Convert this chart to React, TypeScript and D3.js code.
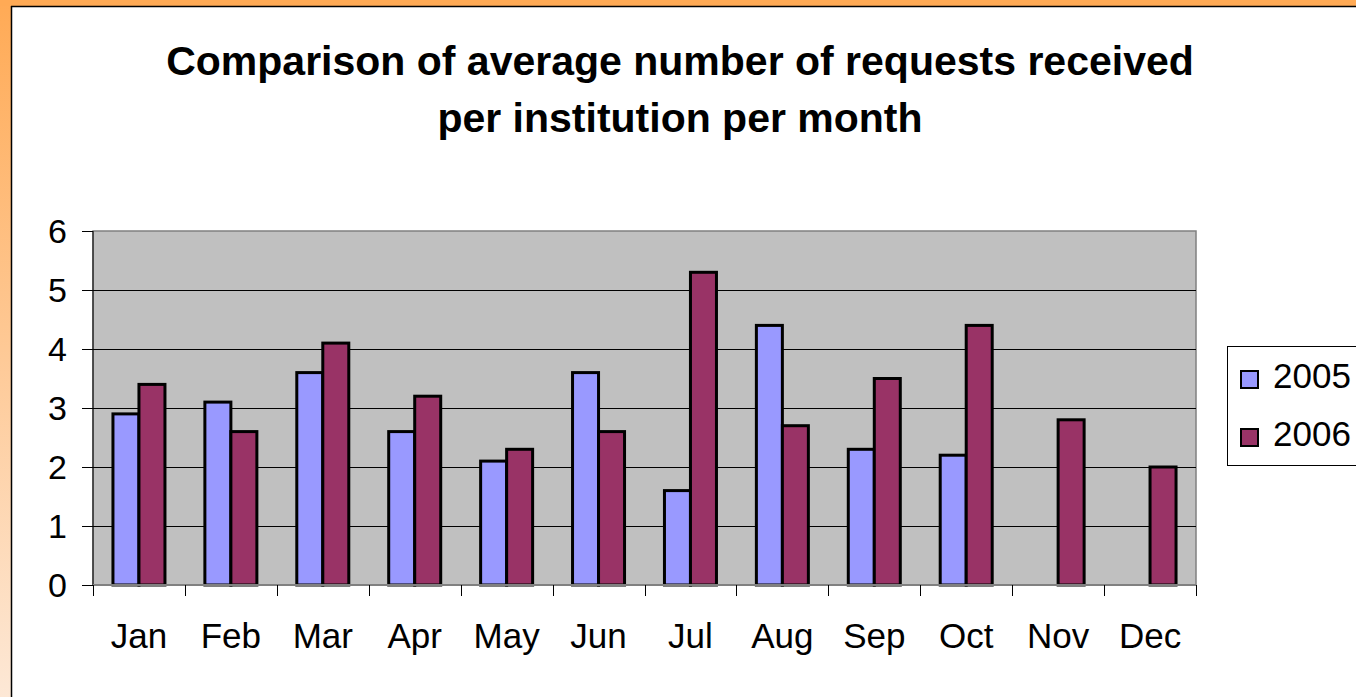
import React, { useEffect, useRef } from 'react';
import * as d3 from 'd3';

const months = ['Jan', 'Feb', 'Mar', 'Apr', 'May', 'Jun', 'Jul', 'Aug', 'Sep', 'Oct', 'Nov', 'Dec'];
const series2005 = [2.9, 3.1, 3.6, 2.6, 2.1, 3.6, 1.6, 4.4, 2.3, 2.2, null, null];
const series2006 = [3.4, 2.6, 4.1, 3.2, 2.3, 2.6, 5.3, 2.7, 3.5, 4.4, 2.8, 2.0];
const seriesNames = ['2005', '2006'];
const yTicks = [0, 1, 2, 3, 4, 5, 6];
const titleLines = ['Comparison of average number of requests received', 'per institution per month'];

const colors = ['#9999FF', '#993366'];

const App = () => {
  const ref = useRef<SVGSVGElement>(null);

  useEffect(() => {
    if (!ref.current) return;
    const W = 1356;
    const H = 697;
    const svg = d3.select(ref.current);
    svg.selectAll('*').remove();
    svg.attr('width', W).attr('height', H);

    const font = 'Arial, "Liberation Sans", sans-serif';

    // frame background
    const defs = svg.append('defs');
    const grad = defs.append('linearGradient')
      .attr('id', 'leftgrad')
      .attr('x1', 0).attr('y1', 0).attr('x2', 0).attr('y2', 1);
    grad.append('stop').attr('offset', '0%').attr('stop-color', '#FFAA55');
    grad.append('stop').attr('offset', '100%').attr('stop-color', '#FDE8D6');

    svg.append('rect').attr('width', W).attr('height', H).attr('fill', 'white');
    svg.append('rect').attr('x', 0).attr('y', 0).attr('width', 11).attr('height', H).attr('fill', 'url(#leftgrad)');
    svg.append('rect').attr('x', 0).attr('y', 0).attr('width', W).attr('height', 6).attr('fill', '#FFAA55');
    svg.append('line').attr('x1', 11.5).attr('x2', 11.5).attr('y1', 6).attr('y2', H)
      .attr('stroke', '#000').attr('stroke-width', 1.5);
    svg.append('line').attr('x1', 11).attr('x2', W).attr('y1', 6.5).attr('y2', 6.5)
      .attr('stroke', '#000').attr('stroke-width', 1.5);

    // title
    svg.append('g').selectAll('text')
      .data(titleLines)
      .enter().append('text')
      .attr('x', 680)
      .attr('y', (d, i) => 75 + i * 57)
      .attr('text-anchor', 'middle')
      .attr('font-family', font)
      .attr('font-weight', 'bold')
      .attr('font-size', 41)
      .text(d => d);

    const left = 93;
    const right = 1196;
    const top = 231;
    const bottom = 585;

    const x = d3.scaleBand().domain(months).range([left, right]);
    const y = d3.scaleLinear().domain([0, 6]).range([bottom, top]);
    const inner = d3.scaleBand().domain(seriesNames).range([0, 52]);
    const groupOffset = (x.bandwidth() - 52) / 2;

    svg.append('rect')
      .attr('x', left).attr('y', top)
      .attr('width', right - left).attr('height', bottom - top)
      .attr('fill', '#C0C0C0')
      .attr('stroke', '#808080').attr('stroke-width', 1.5);

    // gridlines
    svg.append('g').selectAll('line')
      .data(yTicks.filter(t => t > 0 && t < 6))
      .enter().append('line')
      .attr('x1', left).attr('x2', right)
      .attr('y1', d => Math.round(y(d)) + 0.5).attr('y2', d => Math.round(y(d)) + 0.5)
      .attr('stroke', '#000').attr('stroke-width', 1.2);

    // bars
    const data = [series2005, series2006];
    data.forEach((vals, si) => {
      svg.append('g').selectAll('rect')
        .data(months.map((m, i) => ({ m, v: vals[i] })).filter(d => d.v != null))
        .enter().append('rect')
        .attr('x', d => (x(d.m) as number) + groupOffset + (inner(seriesNames[si]) as number))
        .attr('y', d => y(d.v as number))
        .attr('width', inner.bandwidth())
        .attr('height', d => bottom - y(d.v as number))
        .attr('fill', colors[si])
        .attr('stroke', '#000')
        .attr('stroke-width', 3);
    });

    // axes
    svg.append('line').attr('x1', left).attr('x2', left).attr('y1', top).attr('y2', bottom)
      .attr('stroke', '#000').attr('stroke-width', 1);
    svg.append('line').attr('x1', left).attr('x2', right).attr('y1', bottom).attr('y2', bottom)
      .attr('stroke', '#808080').attr('stroke-width', 2);

    svg.append('g').selectAll('line')
      .data(yTicks)
      .enter().append('line')
      .attr('x1', left - 11).attr('x2', left)
      .attr('y1', d => Math.round(y(d)) + 0.5).attr('y2', d => Math.round(y(d)) + 0.5)
      .attr('stroke', '#000');

    svg.append('g').selectAll('text')
      .data(yTicks)
      .enter().append('text')
      .attr('x', 67)
      .attr('y', d => y(d))
      .attr('dy', '0.36em')
      .attr('text-anchor', 'end')
      .attr('font-family', font)
      .attr('font-size', 34)
      .text(d => d);

    const xTickPos = months.map(m => x(m) as number).concat([right]);
    svg.append('g').selectAll('line')
      .data(xTickPos)
      .enter().append('line')
      .attr('x1', d => Math.round(d) + 0.5).attr('x2', d => Math.round(d) + 0.5)
      .attr('y1', bottom).attr('y2', bottom + 11)
      .attr('stroke', '#000');

    svg.append('g').selectAll('text')
      .data(months)
      .enter().append('text')
      .attr('x', d => (x(d) as number) + x.bandwidth() / 2)
      .attr('y', 648)
      .attr('text-anchor', 'middle')
      .attr('font-family', font)
      .attr('font-size', 35)
      .text(d => d);

    // legend
    svg.append('rect')
      .attr('x', 1227.5).attr('y', 346.5)
      .attr('width', 140).attr('height', 119)
      .attr('fill', 'white').attr('stroke', '#000').attr('stroke-width', 1);

    const legend = svg.append('g').selectAll('g')
      .data(seriesNames)
      .enter().append('g')
      .attr('transform', (d, i) => `translate(1240, ${370 + i * 58})`);
    legend.append('rect')
      .attr('x', 1).attr('y', 1)
      .attr('width', 17).attr('height', 17)
      .attr('fill', (d, i) => colors[i])
      .attr('stroke', '#000').attr('stroke-width', 2);
    legend.append('text')
      .attr('x', 33).attr('y', 18)
      .attr('font-family', font)
      .attr('font-size', 35)
      .text(d => d);
  }, []);

  return <svg ref={ref} style={{ position: 'absolute', left: 0, top: 0 }} />;
};

export default App;
